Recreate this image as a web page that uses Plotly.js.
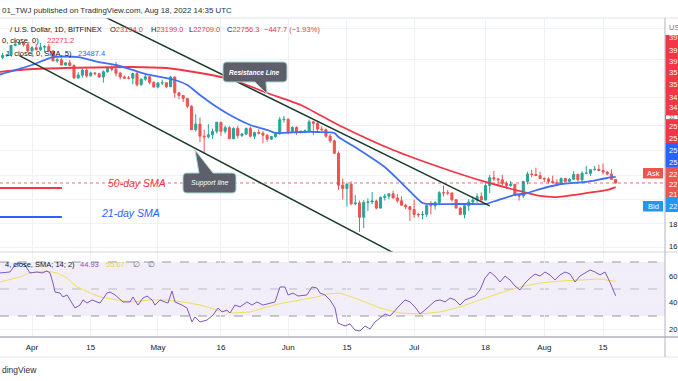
<!DOCTYPE html>
<html><head><meta charset="utf-8">
<script src="https://cdn.plot.ly/plotly-3.0.1.min.js"></script>
<style>html,body{margin:0;padding:0;background:#fff;overflow:hidden}#chart{width:678px;height:381px}</style>
</head><body><div id="chart"></div>
<script>
// ---------------- DATA ----------------
const firstDate = [2022, 2, 24]; // 2022-03-24, daily candles through 2022-08-18
const open  = [42900,44000,44500,44500,46850,47150,47450,47080,
 45530,46300,45820,46430,46620,45530,43200,43450,42280,42770,42160,39530,40100,41150,39940,40550,40400,39700,40800,41500,41370,40500,39710,39460,39450,40430,38120,39230,39740,38600,
 37650,38470,38520,37720,39690,36550,36020,35480,34050,30090,31000,29100,29000,29300,29850,31300,29850,30430,28700,30300,29200,29430,30300,29100,29650,29550,29250,28650,29030,29470,31730,
 31800,29800,30450,29700,29850,29900,31370,31130,30200,30100,29100,28400,26600,22500,22100,22600,20400,20500,19000,20550,20600,20700,19950,21100,21230,21500,21030,20730,20250,20100,
 19800,19300,19250,19300,20230,20200,20550,21630,21600,21600,20850,19950,19300,20200,20600,20800,21200,20800,22450,23400,23250,23150,22700,22450,22600,21350,21250,22950,23850,23800,23650,
 23300,23250,22950,22820,22600,23300,22950,23200,23800,23150,23950,23950,24400,24450,24300,24100,23850,23194];
const high  = [44200,45100,44800,46900,48200,48100,47700,47600,
 46700,47200,47450,46900,47200,45530,43900,43950,42800,43400,42400,40700,41550,41500,40850,40700,40600,41100,41750,42150,42950,40800,39980,39900,40600,40780,39450,40350,39900,38800,
 38650,39150,38600,39950,39800,36650,36100,35500,34250,32650,32100,30100,31000,30300,31300,31300,30750,30650,30500,30750,29600,30450,30650,29800,30150,29850,29400,29150,29550,32200,32350,
 31950,30650,30650,29950,30150,31750,31550,31300,30650,30300,29400,28550,26850,23300,22800,22950,21350,20750,20800,21000,21700,20850,21200,21500,21550,21850,21500,21200,20400,20150,
 20850,19450,19650,20300,20700,20650,21800,22450,21950,21600,20850,20050,20300,20900,21200,21550,21650,22750,23750,24250,23400,23750,22950,23000,22650,21450,23000,24150,24400,24650,24150,
 23450,23450,23650,23200,23450,23350,23350,24200,23900,24200,24900,24450,24900,25050,25200,24250,24450,23199];
const low   = [42600,43600,44100,44400,46650,46950,46550,45250,
 44250,45650,45550,45150,45400,43150,42750,42200,42150,42000,39250,39250,39600,39580,39800,40050,39550,38550,40600,40900,39800,39200,39300,39200,38200,37750,37900,38900,38200,37600,
 37400,38050,37500,37650,35600,35300,34800,33700,30050,29800,28200,26600,28750,28650,29500,29150,29500,28700,28700,28750,28950,29250,28900,28650,29350,28050,28250,28550,28850,29300,31250,
 29400,29600,29300,29500,29550,29880,29250,29850,29950,28850,28100,26600,21950,20850,20100,20250,20250,17600,17950,19650,20350,19800,19900,20750,20900,21000,20500,20200,19850,18650,
 18950,19000,18800,19050,19300,19800,20250,21200,21350,20650,19900,19250,18900,19650,20400,20500,20800,20800,21600,23000,22350,22500,22050,22300,21300,20750,21050,22600,23450,23600,23250,
 22850,22700,22700,22450,22600,22950,22850,23150,22900,22700,23850,23600,24300,24200,23800,23700,23200,22709];
const close = [44000,44500,44500,46850,47150,47450,47080,45530,
 46300,45820,46430,46620,45530,43200,43450,42280,42770,42160,39530,40100,41150,39940,40550,40400,39700,40800,41500,41370,40500,39710,39460,39450,40430,38120,39230,39740,38600,37650,
 38470,38520,37720,39690,36550,36020,35480,34050,30090,31000,29100,29000,29300,29850,31300,29850,30430,28700,30300,29200,29430,30300,29100,29650,29550,29250,28650,29030,29470,31730,31800,
 29800,30450,29700,29850,29900,31370,31130,30200,30100,29100,28400,26600,22500,22100,22600,20400,20500,19000,20550,20600,20700,19950,21100,21230,21500,21030,20730,20250,20100,19800,
 19300,19250,19300,20230,20200,20550,21630,21600,21600,20850,19950,19300,20200,20600,20800,21200,20800,22450,23400,23250,23150,22700,22450,22600,21350,21250,22950,23850,23800,23650,23300,
 23250,22950,22820,22600,23300,22950,23200,23800,23150,23950,23950,24400,24450,24300,24100,23850,23204,22756.3];

// 50-day SMA (red) and 21-day SMA (blue)
const sma50Dates  = ['2022-03-24','2022-04-01','2022-04-09','2022-04-25','2022-05-03','2022-05-11','2022-05-19','2022-05-27','2022-06-04','2022-06-13','2022-06-26','2022-07-07','2022-07-18','2022-07-27','2022-07-31','2022-08-04','2022-08-08','2022-08-16','2022-08-18'];
const sma50Values = [40750,41400,41620,41840,41620,40540,39080,36500,34270,30860,27060,24750,22880,21710,21260,21140,21370,21940,22271.2];
const sma21Dates  = ['2022-03-24','2022-04-01','2022-04-06','2022-04-12','2022-04-17','2022-04-21','2022-04-25','2022-04-29','2022-05-03','2022-05-05','2022-05-08','2022-05-11','2022-05-15','2022-05-19','2022-05-23','2022-05-27','2022-05-29','2022-06-04','2022-06-08','2022-06-12','2022-06-13','2022-06-18','2022-06-24','2022-06-29','2022-07-03','2022-07-05','2022-07-11','2022-07-15','2022-07-18','2022-07-21','2022-07-25','2022-07-28','2022-07-31','2022-08-04','2022-08-08','2022-08-11','2022-08-16','2022-08-18'];
const sma21Values = [40120,42280,44090,44090,42950,42280,41190,40120,39490,39080,38070,36120,33910,32180,30860,30060,29590,29740,29740,29590,28970,27060,24750,22280,20490,20380,20380,20380,20380,20810,21370,21590,22050,22520,22760,22880,23360,23487.4];

// Drawn trend lines (date, price)
const resistanceDates = ['2022-04-15','2022-07-19'];
const resistancePrices = [56430, 20180];
const supportDates = ['2022-03-29','2022-06-26'];
const supportPrices = [44400, 15790];
// short legend strokes at the left
const legendStrokeDates = ['2022-03-20','2022-04-08 03:00'];
const redStrokePrice = 22170;
const blueStrokePrice = 19040;

// RSI (14) and its SMA, days counted from 2022-04-01
const rsiDays = [-7.62,-5.24,-4.05,-2.86,-1.67,-0.48,1.19,2.38,3.57,4.29,5.00,5.48,6.67,7.38,8.34,10.24,11.43,12.15,13.10,14.29,15.48,16.19,17.86,18.58,19.77,21.67,23.34,24.05,25.24,26.43,27.39,28.58,29.29,30.48,31.67,32.39,33.34,34.06,35.72,36.91,38.10,38.82,40.01,41.68,43.11,44.30,45.25,46.44,47.15,48.34,49.54,51.20,52.39,53.58,55.01,56.68,57.87,59.06,60.25,60.97,62.16,63.35,65.49,66.68,67.87,68.59,69.78,70.97,72.16,72.87,
 74.54,75.73,76.92,78.11,79.30,80.50,81.69,82.88,84.07,85.26,86.45,87.64,88.83,90.02,91.21,92.40,93.59,94.78,95.98,97.17,98.36,99.55,100.74,101.93,103.12,104.31,105.50,106.69,107.88,109.07,110.26,111.45,112.65,113.84,115.03,116.22,117.41,118.60,119.79,120.98,122.17,123.36,124.55,125.74,126.93,128.13,129.32,130.51,131.70,132.89,134.08,135.27,136.46,137.65,139];
const rsiValues = [61.9,62.6,67.8,69.3,67.8,61.9,62.6,61.9,63.3,61.9,54.4,47.8,47.0,44.1,45.6,35.9,38.1,41.9,39.6,41.9,40.4,39.6,47.0,47.8,45.6,40.4,40.4,44.1,38.1,43.3,44.8,41.9,38.1,41.9,40.4,39.6,48.5,40.4,38.1,35.9,25.6,29.3,25.6,27.0,30.7,35.9,33.0,34.4,32.2,38.1,36.7,40.4,38.1,40.4,38.1,39.6,40.4,51.5,51.5,45.6,47.0,44.8,45.6,51.5,50.7,47.0,45.6,41.9,35.9,24.8,
 22.6,24.1,19.6,18.9,22.6,20.4,25.6,28.5,31.5,30.0,34.4,38.1,41.9,40.4,36.7,31.5,34.4,38.1,41.1,41.9,40.4,43.3,41.9,38.1,41.9,43.3,44.8,49.3,58.1,62.6,59.6,55.2,59.6,56.7,52.2,49.3,54.4,58.1,61.1,59.6,62.6,60.4,56.7,60.4,62.6,61.1,55.2,59.6,61.9,64.1,62.6,60.4,62.6,55.0,44.93];
const rsiMaDays = [-7.62,-2.86,-0.48,3.57,5.95,8.34,10.72,13.81,16.19,20.24,24.05,28.10,32.15,35.96,40.01,44.06,47.87,51.92,55.97,59.78,63.82,67.87,70.25,73.35,78.11,82.88,87.64,92.40,97.17,101.93,106.69,111.45,116.22,120.98,125.74,130.51,135.27,139];
const rsiMaValues = [55.2,58.9,61.9,63.3,61.9,58.2,51.5,47.0,44.1,41.9,40.4,41.9,41.9,40.4,38.2,34.4,32.2,33.0,36.7,39.6,41.9,44.1,46.3,47.0,41.9,35.9,32.2,31.5,33.0,36.7,41.9,47.0,51.5,54.4,55.9,56.7,57.4,55.67];

const xTickDates = ['2022-04-01','2022-04-15','2022-05-01','2022-05-16','2022-06-01','2022-06-15','2022-07-01','2022-07-18','2022-08-01','2022-08-15'];
const xTickText  = ['Apr','15','May','16','Jun','15','Jul','18','Aug','15'];
const priceGrid  = [16262,18446,20923,23732,27061,30696,35743,43633,51345];

// ---------------- HELPERS ----------------
const W = 678, H = 381;
const PX = x => x / W, PY = y => 1 - y / H;
const pad = n => String(n).padStart(2, '0');
const dates = open.map((_, i) => {
  const d = new Date(Date.UTC(firstDate[0], firstDate[1], firstDate[2]) + i * 864e5);
  return d.getUTCFullYear() + '-' + pad(d.getUTCMonth() + 1) + '-' + pad(d.getUTCDate());
});
const dayToDate = d => {
  const t = new Date(Date.UTC(2022, 3, 1) + d * 864e5);
  return t.toISOString().replace('T', ' ').slice(0, 19);
};
const FONT = 'Liberation Sans, Arial, sans-serif';
const TXT = '#131722';
const RED = '#f23645', BLUE = '#2962ff', PURPLE = '#7e57c2', YELLOW = '#efdf55';
const X0 = '2022-03-24 09:06', X1 = '2022-08-29 18:00';

function ann(text, x, y, o) {
  o = o || {};
  return {xref: 'paper', yref: 'paper', x: PX(x), y: PY(y), text: text, showarrow: false,
    xanchor: o.xa || 'left', yanchor: 'middle', borderpad: 0,
    font: {family: FONT, size: o.size || 7.5, color: o.color || TXT, style: o.style || 'normal', weight: o.weight || 'normal'}};
}
function pathPx(cmds) {
  return cmds.map(c => {
    const k = c[0], v = c.slice(1);
    const pts = [];
    for (let i = 0; i < v.length; i += 2) pts.push(PX(v[i]).toFixed(5) + ',' + PY(v[i + 1]).toFixed(5));
    return k + pts.join(' ');
  }).join(' ');
}
function rectPx(x0, y0, x1, y1, fill, line) {
  return {type: 'rect', xref: 'paper', yref: 'paper', x0: PX(x0), x1: PX(x1), y0: PY(y1), y1: PY(y0),
    fillcolor: fill, line: line || {width: 0}, layer: 'above'};
}
function linePx(x0, y0, x1, y1, color, w) {
  return {type: 'line', xref: 'paper', yref: 'paper', x0: PX(x0), x1: PX(x1), y0: PY(y0), y1: PY(y1),
    line: {color: color, width: w || 1}, layer: 'above'};
}

// ---------------- TRACES ----------------
const lastClose = close[close.length - 1];
const traces = [
  {type: 'candlestick', x: dates, open: open, high: high, low: low, close: close,
   xaxis: 'x', yaxis: 'y', hoverinfo: 'skip', whiskerwidth: 0,
   increasing: {line: {color: '#26a69a', width: 1}, fillcolor: '#26a69a'},
   decreasing: {line: {color: '#ef5350', width: 1}, fillcolor: '#ef5350'}},
  {type: 'scatter', mode: 'lines', x: [X0, X1], y: [lastClose, lastClose], xaxis: 'x', yaxis: 'y',
   line: {color: 'rgba(242,54,69,0.75)', width: 1, dash: 'dot'}, hoverinfo: 'skip'},
  {type: 'scatter', mode: 'lines', x: sma50Dates, y: sma50Values, xaxis: 'x', yaxis: 'y',
   line: {color: RED, width: 1.8, shape: 'spline', smoothing: 0.6}, hoverinfo: 'skip'},
  {type: 'scatter', mode: 'lines', x: sma21Dates, y: sma21Values, xaxis: 'x', yaxis: 'y',
   line: {color: '#3f6ff5', width: 1.8, shape: 'spline', smoothing: 0.6}, hoverinfo: 'skip'},
  {type: 'scatter', mode: 'lines', x: resistanceDates, y: resistancePrices, xaxis: 'x', yaxis: 'y',
   line: {color: '#1c3b2c', width: 1.5}, hoverinfo: 'skip'},
  {type: 'scatter', mode: 'lines', x: supportDates, y: supportPrices, xaxis: 'x', yaxis: 'y',
   line: {color: '#1c3b2c', width: 1.5}, hoverinfo: 'skip'},
  {type: 'scatter', mode: 'lines', x: legendStrokeDates, y: [redStrokePrice, redStrokePrice], xaxis: 'x', yaxis: 'y',
   line: {color: RED, width: 2}, hoverinfo: 'skip'},
  {type: 'scatter', mode: 'lines', x: legendStrokeDates, y: [blueStrokePrice, blueStrokePrice], xaxis: 'x', yaxis: 'y',
   line: {color: BLUE, width: 2}, hoverinfo: 'skip'},
  {type: 'scatter', mode: 'lines', x: rsiMaDays.map(dayToDate), y: rsiMaValues, xaxis: 'x', yaxis: 'y2',
   line: {color: YELLOW, width: 1}, hoverinfo: 'skip'},
  {type: 'scatter', mode: 'lines', x: rsiDays.map(dayToDate), y: rsiValues, xaxis: 'x', yaxis: 'y2',
   line: {color: PURPLE, width: 1}, hoverinfo: 'skip'}
];

// ---------------- LAYOUT ----------------
const XR = 665 / W;
const shapes = [
  {type: 'rect', xref: 'paper', yref: 'y2', x0: 0, x1: XR, y0: 30, y1: 70, fillcolor: 'rgba(126,87,194,0.1)', line: {width: 0}, layer: 'below'},
  {type: 'line', xref: 'paper', yref: 'y2', x0: 0, x1: XR, y0: 70, y1: 70, line: {color: '#9598a1', width: 1, dash: 'dash'}, layer: 'below'},
  {type: 'line', xref: 'paper', yref: 'y2', x0: 0, x1: XR, y0: 50, y1: 50, line: {color: 'rgba(149,152,161,0.6)', width: 1, dash: 'dash'}, layer: 'below'},
  {type: 'line', xref: 'paper', yref: 'y2', x0: 0, x1: XR, y0: 30, y1: 30, line: {color: '#9598a1', width: 1, dash: 'dash'}, layer: 'below'},
  linePx(0, 18, 678, 18, '#e0e3eb'),
  linePx(0, 252, 678, 252, '#d1d4dc'),
  linePx(0, 337, 678, 337, '#8a8d96'),
  linePx(0, 357, 678, 357, '#e0e3eb'),
  linePx(665, 18, 665, 357, '#b2b5be'),
  // right-hand price labels
  rectPx(665.5, 35, 678, 115, RED),
  rectPx(665.5, 115, 678, 119.5, '#ffffff', {color: RED, width: 0.8}),
  rectPx(665.5, 119.5, 678, 143, RED),
  rectPx(665.5, 143, 678, 167, BLUE),
  rectPx(665.5, 167, 678, 198, '#ef5350'),
  rectPx(665.5, 198, 678, 212, '#2196f3'),
  rectPx(643, 168, 663, 178.5, '#ef5350'),
  rectPx(643, 201, 663, 211.5, '#2196f3'),
  // callouts
  {type: 'path', xref: 'paper', yref: 'paper', layer: 'above', fillcolor: '#5d606b', line: {color: '#a9d8d3', width: 1},
   path: pathPx([['M',227,62],['L',283,62],['Q',287,62,287,66],['L',287,78],['Q',287,82,283,82],['L',266,82],['L',267,94],['L',255,82],['L',227,82],['Q',223,82,223,78],['L',223,66],['Q',223,62,227,62],['Z']])},
  {type: 'path', xref: 'paper', yref: 'paper', layer: 'above', fillcolor: '#5d606b', line: {color: '#a9d8d3', width: 1},
   path: pathPx([['M',187,173],['L',199,173],['L',195,150],['L',213,173],['L',232,173],['Q',236,173,236,177],['L',236,189],['Q',236,193,232,193],['L',187,193],['Q',183,193,183,189],['L',183,177],['Q',183,173,187,173],['Z']])}
];

const rv = s => '<span style="color:' + RED + '">' + s + '</span>';
const annotations = [
  ann('01_TWJ published on TradingView.com, Aug 18, 2022 14:35 UTC', 0.5, 10, {size: 7.9, color: '#2a2e39'}),
  ann('/ U.S. Dollar, 1D, BITFINEX', 103, 29, {xa: 'right'}),
  ann('O' + rv('23194.0'), 109, 29),
  ann('H' + rv('23199.0'), 150, 29),
  ann('L' + rv('22709.0'), 188, 29),
  ann('C' + rv('22756.3'), 226, 29),
  ann(rv('\u2212447.7 (\u22121.93%)'), 263, 29),
  ann('0, close, 0)', 40, 41, {xa: 'right'}),
  ann('22271.2', 46, 41, {color: RED}),
  ann('1, close, 0, SMA, 5)', 73, 53, {xa: 'right'}),
  ann('23487.4', 77, 53, {color: BLUE}),
  ann('4, close, SMA; 14; 2)', 76, 264, {xa: 'right'}),
  ann('44.93', 79, 264, {color: PURPLE}),
  ann('55.67', 105, 264, {color: '#e6d34a'}),
  ann('\u2205', 132, 264, {color: '#6a6d78'}),
  ann('\u2205', 147, 264, {color: '#6a6d78'}),
  ann('50-day SMA', 136.5, 183, {xa: 'center', size: 10.5, color: RED, style: 'italic'}),
  ann('21-day SMA', 130.5, 213, {xa: 'center', size: 10.5, color: BLUE, style: 'italic'}),
  ann('Resistance Line', 255, 72, {xa: 'center', size: 6.6, color: '#ffffff', style: 'italic', weight: 'bold'}),
  ann('Support line', 209.5, 183, {xa: 'center', size: 7, color: '#ffffff', style: 'italic'}),
  ann('Ask', 653, 173.2, {xa: 'center', size: 7.5, color: '#ffffff'}),
  ann('Bid', 653, 206.2, {xa: 'center', size: 7.5, color: '#ffffff'}),
  ann('US', 667.5, 28, {color: '#787b86'}),
  ann('dingView', 0.5, 370, {size: 8.5, color: '#2a2e39'}),
  ann('18', 667.5, 224, {color: TXT}),
  ann('16', 667.5, 246, {color: TXT}),
  ann('60', 667.5, 276, {color: TXT}),
  ann('40', 667.5, 302, {color: TXT}),
  ann('20', 667.5, 329, {color: TXT})
];
const boxLabels = [[38,'39'],[50,'39'],[62,'39'],[73,'35'],[84,'35'],[97,'34'],[108,'34'],
  [126,'25'],[138,'25'],[150,'25'],[162,'25'],[174,'22'],[185,'22'],[194,'21'],[206,'22']];
boxLabels.forEach(b => annotations.push(ann(b[1], 667.5, b[0], {color: '#ffffff'})));
annotations.push(ann('33', 667.5, 117.3, {color: '#6a6d78', size: 5}));

const layout = {
  width: W, height: H, margin: {l: 0, r: 0, t: 0, b: 0, pad: 0},
  paper_bgcolor: '#ffffff', plot_bgcolor: '#ffffff', showlegend: false,
  font: {family: FONT, size: 8, color: TXT},
  xaxis: {type: 'date', domain: [0, XR], anchor: 'y2', range: [X0, X1],
    tickvals: xTickDates, ticktext: xTickText, ticks: '', showline: false, zeroline: false,
    ticklabelstandoff: 4,
    showgrid: true, gridcolor: '#eef1f6', gridwidth: 1, tickfont: {family: FONT, size: 8, color: TXT},
    rangeslider: {visible: false}, fixedrange: true},
  yaxis: {type: 'log', domain: [PY(252), PY(18)], range: [4.19978, 4.7333], side: 'right',
    tickvals: priceGrid, showticklabels: false, ticks: '', showgrid: true, gridcolor: '#eef1f6',
    zeroline: false, showline: false, fixedrange: true},
  yaxis2: {domain: [PY(337), PY(252)], range: [14.44, 77.41], side: 'right',
    tickvals: [20, 40, 60], showticklabels: false, ticks: '', showgrid: true, gridcolor: '#eef1f6',
    zeroline: false, showline: false, fixedrange: true},
  shapes: shapes,
  annotations: annotations
};

Plotly.newPlot('chart', traces, layout, {staticPlot: true, displayModeBar: false});
</script>
</body></html>
